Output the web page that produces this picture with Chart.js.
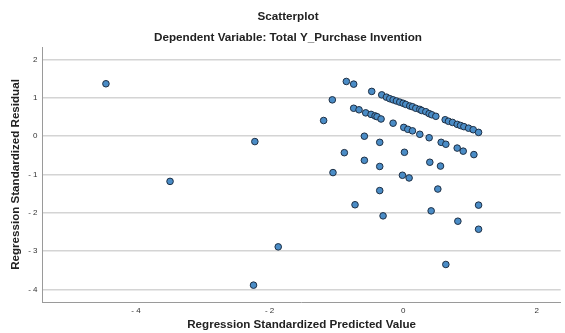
<!DOCTYPE html>
<html>
<head>
<meta charset="utf-8">
<script src="https://cdn.jsdelivr.net/npm/chart.js@4"></script>
<style>
  html, body { margin: 0; padding: 0; background: #fff; }
  #wrap { width: 565px; height: 333px; }
</style>
</head>
<body>
<div id="wrap"><canvas id="myChart" width="565" height="333"></canvas></div>
<script>
// Regression standardized predicted values (x) and residuals (y)
var predicted = [-4.45, -3.49, -2.22, -1.87, -2.24,
  -0.85, -0.74, -0.47, -1.06, -1.19,
  -0.32, -0.25, -0.20, -0.15, -0.10, -0.05, 0.00, 0.04, 0.10, 0.14, 0.19, 0.25, 0.28,
  0.34, 0.39, 0.43, 0.49, 0.63, 0.68, 0.74, 0.81, 0.86, 0.91, 0.98, 1.05, 1.13,
  -0.74, -0.66, -0.56, -0.48, -0.42, -0.39, -0.33, -0.15, 0.01, 0.07, 0.14, 0.25,
  0.39, 0.57, 0.64, 0.81, 0.90, 1.06,
  -0.58, -0.35, -0.88, 0.02, -0.58, -0.35, 0.40, 0.56, -1.05, -0.01, 0.09, -0.35,
  0.52, -0.72, 1.13, -0.30, 0.42, 0.82, 1.13, 0.64];
var residual = [1.37, -1.18, -0.14, -2.89, -3.89,
  1.43, 1.36, 1.17, 0.95, 0.41,
  1.08, 1.02, 0.98, 0.95, 0.92, 0.89, 0.86, 0.83, 0.79, 0.77, 0.73, 0.70, 0.67,
  0.64, 0.59, 0.56, 0.52, 0.43, 0.39, 0.36, 0.31, 0.28, 0.25, 0.21, 0.17, 0.10,
  0.73, 0.69, 0.61, 0.57, 0.53, 0.51, 0.45, 0.34, 0.23, 0.18, 0.14, 0.05,
  -0.04, -0.16, -0.21, -0.31, -0.39, -0.48,
  0.00, -0.16, -0.43, -0.42, -0.63, -0.79, -0.68, -0.78, -0.95, -1.02, -1.09, -1.42,
  -1.38, -1.79, -1.80, -2.08, -1.95, -2.22, -2.43, -3.35];

var chartTitle = "Scatterplot";
var chartSubtitle = "Dependent Variable: Total Y_Purchase Invention";

var points = predicted.map(function (x, i) { return { x: x, y: residual[i] }; });

// SPSS writes negative ticks as "- 4"
function spssTick(v) {
  return v < 0 ? "- " + Math.abs(v) : "" + v;
}

var FONT = "'Liberation Sans', Arial, sans-serif";

// the two heading lines sit a little off the canvas middle, so draw them by hand
var titlePlugin = {
  id: "spssTitles",
  afterDraw: function (chart) {
    var c = chart.ctx;
    c.save();
    c.fillStyle = "#222";
    c.textAlign = "center";
    c.textBaseline = "middle";
    c.font = "bold 11.7px " + FONT;
    c.fillText(chartTitle, 288, 17);
    c.fillText(chartSubtitle, 288, 38);
    c.restore();
  }
};

var ctx = document.getElementById("myChart");
var myChart = new Chart(ctx, {
  type: "scatter",
  data: {
    datasets: [{
      data: points,
      backgroundColor: "#4a8cc6",
      borderColor: "#1e2f44",
      borderWidth: 1,
      pointRadius: 3.3,
      pointHoverRadius: 3.3
    }]
  },
  options: {
    responsive: false,
    animation: false,
    layout: { padding: { top: 47, right: 3, left: 0, bottom: 0 } },
    plugins: {
      legend: { display: false },
      tooltip: { enabled: false }
    },
    scales: {
      x: {
        type: "linear",
        min: -5.4,
        max: 2.36,
        grid: { display: false, drawTicks: false },
        border: { display: true, color: "#9a9a9a", width: 1 },
        ticks: {
          stepSize: 2,
          includeBounds: false,
          padding: 4,
          color: "#333",
          font: { family: FONT, size: 8 },
          callback: spssTick
        },
        title: {
          display: true,
          text: "Regression Standardized Predicted Value",
          color: "#222",
          padding: { top: 0, bottom: 1 },
          font: { family: FONT, size: 11.6, weight: "bold" }
        },
        afterFit: function (s) { s.height = 31; }
      },
      y: {
        min: -4.33,
        max: 2.33,
        grid: { color: "#d4d4d4", lineWidth: 1.5, drawTicks: false },
        border: { display: true, color: "#9a9a9a", width: 1 },
        ticks: {
          stepSize: 1,
          includeBounds: false,
          padding: 5,
          color: "#333",
          font: { family: FONT, size: 8 },
          callback: spssTick
        },
        title: {
          display: true,
          text: "Regression Standardized Residual",
          color: "#222",
          padding: { top: 9, bottom: 0 },
          font: { family: FONT, size: 11.6, weight: "bold" }
        },
        afterFit: function (s) { s.width = 42.5; }
      }
    }
  },
  plugins: [titlePlugin]
});
</script>
</body>
</html>
